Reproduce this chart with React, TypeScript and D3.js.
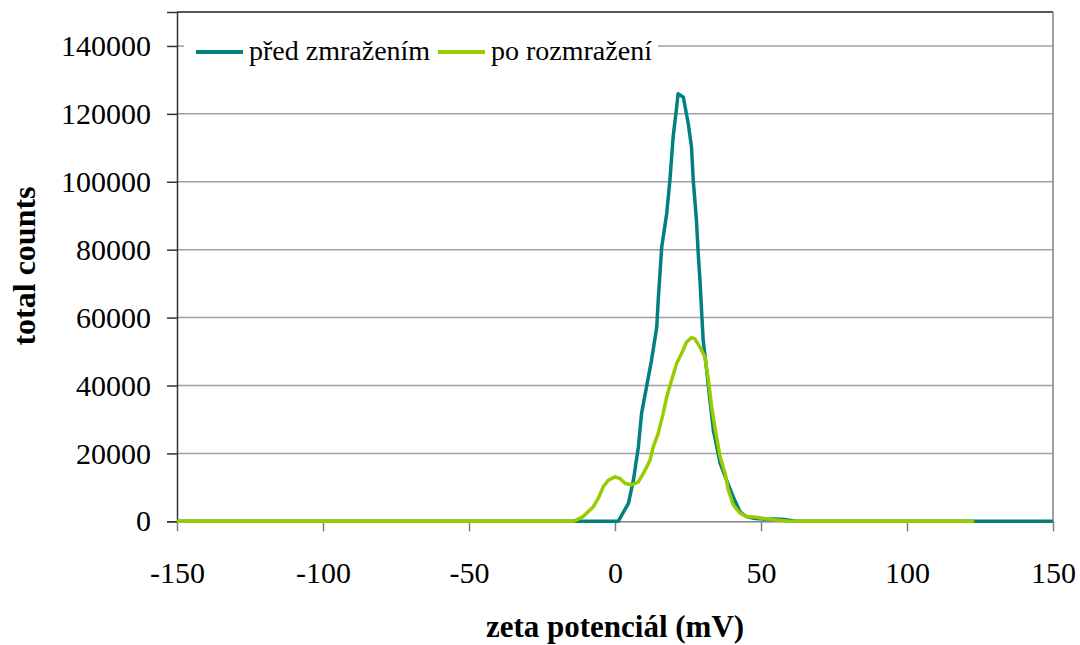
import React, { useRef, useEffect } from 'react';
import * as d3 from 'd3';

// zeta potential (mV) / total counts
const beforeX = [-150, -20, 0, 1.1, 4.6, 6.3, 8.0, 9.1, 10.8, 12.5, 14.3, 14.8, 16.0, 17.7, 18.8, 19.9, 21.1, 21.6, 22.4, 23.4, 25.1, 26.2, 26.8, 27.9, 28.5, 29.1, 29.7, 30.2, 31.4, 32.5, 33.7, 36.0, 38.2, 40.5, 42.8, 45.0, 48.0, 52.0, 55.0, 58.0, 62.0, 100, 150];
const beforeY = [0, 0, 0, 0, 5300, 12100, 21900, 31800, 39600, 47400, 57200, 65100, 80800, 90600, 100400, 113100, 121900, 125900, 125500, 124900, 117100, 110200, 100400, 88600, 78800, 71000, 61200, 53300, 44500, 35700, 26800, 17100, 12100, 7200, 2800, 1400, 800, 600, 700, 500, 0, 0, 0];

const afterX = [-150, -50, -14.3, -10.9, -7.4, -5.7, -4.0, -2.3, 0, 1.7, 3.4, 5.7, 8.0, 9.7, 12.0, 13.1, 14.8, 16.5, 17.7, 19.4, 21.1, 22.8, 24.5, 26.2, 27.3, 29.1, 30.8, 32.0, 33.1, 34.2, 36.0, 37.7, 38.8, 40.5, 42.8, 45.0, 48.4, 52.0, 56.0, 60.0, 100, 123];
const afterY = [0, 0, 0, 1400, 4300, 6800, 10200, 12100, 13100, 12600, 11200, 10700, 11600, 14100, 18000, 21900, 25900, 31800, 36600, 41600, 46500, 49400, 52800, 54100, 53800, 51300, 48400, 41600, 33700, 27800, 19000, 14100, 9200, 4800, 2400, 1400, 1200, 700, 300, 0, 0, 0];

const xTicks = [-150, -100, -50, 0, 50, 100, 150];
const yTicks = [0, 20000, 40000, 60000, 80000, 100000, 120000, 140000];

const seriesNames = ['p\u0159ed zmra\u017een\u00edm', 'po rozmra\u017een\u00ed'];
const seriesColors = ['#008080', '#99cc00'];

const xTitle = 'zeta potenci\u00e1l (mV)';
const yTitle = 'total counts';

const ZetaChart: React.FC = () => {
  const svgRef = useRef<SVGSVGElement>(null);

  useEffect(() => {
    if (!svgRef.current) return;
    const svg = d3.select(svgRef.current);
    svg.selectAll('*').remove();

    const left = 177, right = 1053, top = 12, bottom = 521.3;
    const font = 'Liberation Serif, Times New Roman, serif';
    const fmt = (d: d3.NumberValue) => String(d);

    const x = d3.scaleLinear().domain([-150, 150]).range([left, right]);
    const y = d3.scaleLinear().domain([0, 150000]).range([bottom, top]);

    svg.append('rect').attr('width', 1080).attr('height', 645).attr('fill', '#fff');

    // gridlines
    svg.append('g')
      .selectAll('line')
      .data(yTicks.filter(d => d > 0))
      .join('line')
      .attr('x1', left).attr('x2', right)
      .attr('y1', d => y(d)).attr('y2', d => y(d))
      .attr('stroke', '#a0a0a0').attr('stroke-width', 1.5);

    // plot frame
    svg.append('line').attr('x1', left).attr('x2', right).attr('y1', top).attr('y2', top)
      .attr('stroke', '#222').attr('stroke-width', 1.5);
    svg.append('line').attr('x1', right).attr('x2', right).attr('y1', top).attr('y2', bottom)
      .attr('stroke', '#808080').attr('stroke-width', 1.5);

    // y axis
    const yAxis = svg.append('g')
      .attr('transform', `translate(${left},0)`)
      .call(d3.axisLeft(y).tickValues(yTicks).tickSize(10).tickPadding(16).tickFormat(fmt));
    yAxis.attr('font-family', font).attr('font-size', 30);
    yAxis.select('.domain').attr('stroke', '#333').attr('stroke-width', 1.5);
    yAxis.selectAll('.tick line').attr('stroke', '#333').attr('stroke-width', 1.5);
    yAxis.selectAll('text').attr('fill', '#000');

    // x axis
    const xAxis = svg.append('g')
      .attr('transform', `translate(0,${bottom})`)
      .call(d3.axisBottom(x).tickValues(xTicks).tickSize(10).tickSizeOuter(0).tickPadding(30).tickFormat(fmt));
    xAxis.attr('font-family', font).attr('font-size', 30);
    xAxis.select('.domain').attr('stroke', '#808080').attr('stroke-width', 1.5);
    xAxis.selectAll('.tick line').attr('stroke', '#808080').attr('stroke-width', 1.5);
    xAxis.selectAll('text').attr('fill', '#000');

    // curves
    const line = d3.line<[number, number]>()
      .x(d => x(d[0]))
      .y(d => y(d[1]));

    const before: [number, number][] = beforeX.map((v, i) => [v, beforeY[i]]);
    const after: [number, number][] = afterX.map((v, i) => [v, afterY[i]]);

    svg.append('path')
      .datum(before)
      .attr('fill', 'none')
      .attr('stroke', seriesColors[0])
      .attr('stroke-width', 3.5)
      .attr('stroke-linejoin', 'round')
      .attr('d', line);

    svg.append('path')
      .datum(after)
      .attr('fill', 'none')
      .attr('stroke', seriesColors[1])
      .attr('stroke-width', 3.5)
      .attr('stroke-linejoin', 'round')
      .attr('d', line);

    // legend
    const legend = svg.append('g').attr('transform', 'translate(184,52)')
      .attr('font-family', font).attr('font-size', 28);
    legend.append('rect').attr('x', 0).attr('y', -20).attr('width', 474).attr('height', 40).attr('fill', '#fff');
    const items = [
      { name: seriesNames[0], color: seriesColors[0], x: 12 },
      { name: seriesNames[1], color: seriesColors[1], x: 254 },
    ];
    items.forEach(it => {
      legend.append('line')
        .attr('x1', it.x).attr('x2', it.x + 47).attr('y1', 0).attr('y2', 0)
        .attr('stroke', it.color).attr('stroke-width', 4);
      legend.append('text')
        .attr('x', it.x + 53).attr('y', 0).attr('dy', '0.3em')
        .attr('fill', '#000')
        .text(it.name);
    });

    // axis titles
    svg.append('text')
      .attr('x', 615).attr('y', 637)
      .attr('text-anchor', 'middle')
      .attr('font-family', font).attr('font-size', 31).attr('font-weight', 'bold')
      .text(xTitle);

    svg.append('text')
      .attr('transform', 'translate(35,266) rotate(-90)')
      .attr('text-anchor', 'middle')
      .attr('font-family', font).attr('font-size', 32).attr('font-weight', 'bold')
      .text(yTitle);
  }, []);

  return <svg ref={svgRef} width={1080} height={645} style={{ position: 'absolute', left: 0, top: 0 }}></svg>;
};

export default function App() {
  return <ZetaChart />;
}
